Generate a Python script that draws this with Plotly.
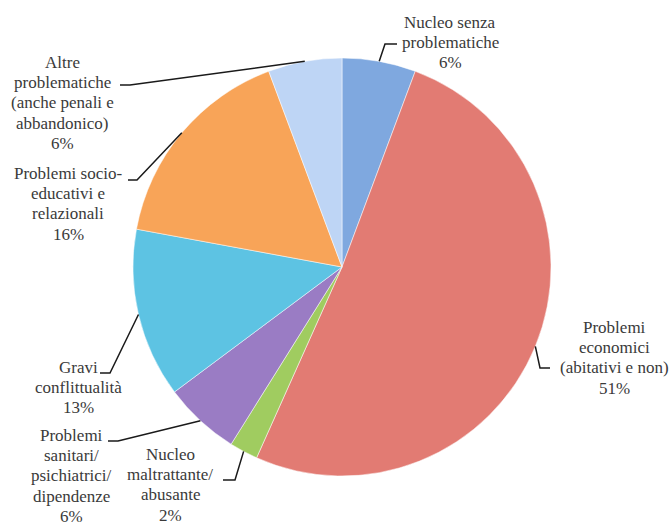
import math
import plotly.graph_objects as go

# ---- data ----
categories = [
    "Nucleo senza<br>problematiche",
    "Problemi<br>economici<br>(abitativi e non)",
    "Nucleo<br>maltrattante/<br>abusante",
    "Problemi<br>sanitari/<br>psichiatrici/<br>dipendenze",
    "Gravi<br>conflittualità",
    "Problemi socio-<br>educativi e<br>relazionali",
    "Altre<br>problematiche<br>(anche penali e<br>abbandonico)",
]
values = [5.7, 51.0, 2.2, 5.9, 13.1, 16.4, 5.7]
colors = ["#7FA8DF", "#E27B73", "#A0CC60", "#9A7CC4", "#5DC3E3", "#F8A458", "#BED5F5"]

# ---- layout constants (pixels) ----
W, H = 669, 526
CX, CY, R = 342, 267, 209
# label centre (x, y of first line) and leader elbow/end for each slice
label_pos = [(450, 22), (614, 327), (170, 454), (71, 435), (78, 367), (68, 173), (63, 62)]
leader = [((385, 44), (397, 44)), ((540, 368), (550, 368)), ((235, 480), (223, 480)),
          ((118, 441), (108, 441)), ((110, 373), (100, 373)), ((137, 180), (128, 180)),
          ((130, 85), (120, 85))]
LINE_H = 20.4
FONT = dict(family="Liberation Serif, Times New Roman, serif", size=17, color="#3a3a3a")


def px(x):
    return x / W


def py(y):
    return 1 - y / H


fig = go.Figure(go.Pie(
    labels=[c.replace("<br>", " ") for c in categories],
    values=values,
    sort=False,
    direction="clockwise",
    rotation=0,
    marker=dict(colors=colors, line=dict(color="white", width=0.5)),
    textinfo="none",
    hoverinfo="label+percent",
    domain=dict(x=[px(CX - R), px(CX + R)], y=[py(CY + R), py(CY - R)]),
    showlegend=False,
))

total = sum(values)
annotations = []
shapes = []
cum = 0
for cat, v, (lx, ly), (elbow, end) in zip(categories, values, label_pos, leader):
    mid = (cum + v / 2) / total * 2 * math.pi
    cum += v
    ex = CX + R * math.sin(mid)
    ey = CY - R * math.cos(mid)
    pct = round(v / total * 100)
    lines = cat.split("<br>") + [f"{pct}%"]
    for i, t in enumerate(lines):
        annotations.append(dict(
            x=px(lx), y=py(ly + i * LINE_H), xref="paper", yref="paper",
            text=t, showarrow=False, xanchor="center", yanchor="middle",
            font=FONT,
        ))
    path = (f"M {px(ex)} {py(ey)} L {px(elbow[0])} {py(elbow[1])} "
            f"L {px(end[0])} {py(end[1])}")
    shapes.append(dict(type="path", xref="paper", yref="paper", path=path,
                       line=dict(color="#1a1a1a", width=1.5)))

fig.update_layout(
    width=W, height=H,
    margin=dict(l=0, r=0, t=0, b=0),
    paper_bgcolor="white",
    plot_bgcolor="white",
    annotations=annotations,
    shapes=shapes,
)

fig.write_html("out.html", config={"displayModeBar": False},
               post_script="document.body.style.margin='0px';")
